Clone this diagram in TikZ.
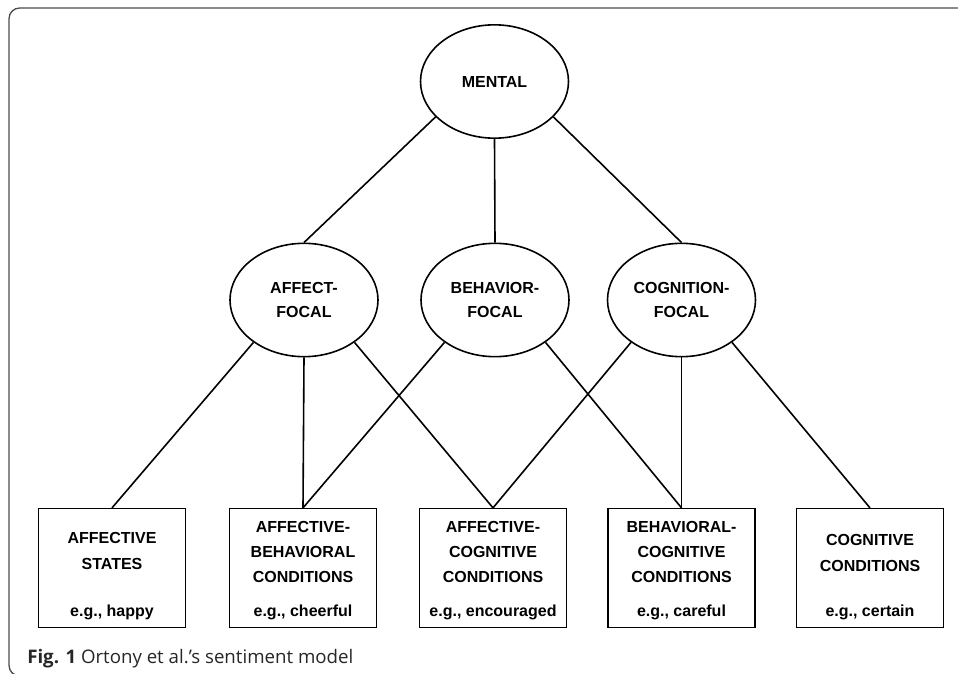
\documentclass[tikz,border=0pt]{standalone}
\usepackage{fontspec}
\setmainfont{Liberation Sans}
\newfontfamily\captionfont{Open Sans}
\usetikzlibrary{shapes.geometric}

\tikzset{
  focal/.style={draw, ellipse, line width=1.2pt, minimum width=111pt, minimum height=85pt,
    inner sep=0pt, align=center, font=\bfseries\fontsize{12}{18}\selectfont},
  condbox/.style={draw, rectangle, line width=1.2pt, minimum width=110pt, minimum height=89pt, inner sep=0pt},
  condtitle/.style={align=center, inner sep=0pt, font=\bfseries\fontsize{12}{19}\selectfont},
  egtext/.style={anchor=base, inner sep=0pt, font=\bfseries\fontsize{12}{14}\selectfont},
  link/.style={draw, line width=1.2pt}
}

\begin{document}
\begin{tikzpicture}[x=0.75pt, y=-0.75pt]
\useasboundingbox (0,0) rectangle (958,674);
\begin{scope}
\clip (0,0) rectangle (958,674);
\draw[gray!60!black, line width=1pt, rounded corners=8pt] (9,8) rectangle (975,676);
\end{scope}

% ellipses
\node[focal] (mental) at (494.5,81.5) {MENTAL};
\node[focal] (affect) at (304,300) {AFFECT-\\FOCAL};
\node[focal] (behavior) at (495,300) {BEHAVIOR-\\FOCAL};
\node[focal] (cognition) at (681.5,300) {COGNITION-\\FOCAL};

% boxes
\node[condbox] (states) at (112,568) {};
\node[condbox] (affbeh) at (303,568) {};
\node[condbox] (affcog) at (493,568) {};
\node[condbox] (behcog) at (681.5,568) {};
\node[condbox] (cogcond) at (870,568) {};

\node[condtitle] (states-t) at (112,551) {AFFECTIVE\\STATES};
\node[condtitle] (affbeh-t) at (303,552) {AFFECTIVE-\\BEHAVIORAL\\CONDITIONS};
\node[condtitle] (affcog-t) at (493,552) {AFFECTIVE-\\COGNITIVE\\CONDITIONS};
\node[condtitle] (behcog-t) at (681.5,552) {BEHAVIORAL-\\COGNITIVE\\CONDITIONS};
\node[condtitle] (cogcond-t) at (870,553) {COGNITIVE\\CONDITIONS};

\node[egtext] (states-eg) at (112,616) {e.g., happy};
\node[egtext] (affbeh-eg) at (303,616) {e.g., cheerful};
\node[egtext] (affcog-eg) at (493,616) {e.g., encouraged};
\node[egtext] (behcog-eg) at (681.5,616) {e.g., careful};
\node[egtext] (cogcond-eg) at (870,616) {e.g., certain};

% links
\path[link] (mental.211) -- (affect.north);
\path[link] (mental.south) -- (behavior.north);
\path[link] (mental.329) -- (cognition.north);

\path[link] (affect.220) -- (states.north);
\path[link] (affect.south) -- (affbeh.north);
\path[link] (affect.320) -- (affcog.north);
\path[link] (behavior.220) -- (affbeh.north);
\path[link] (behavior.320) -- (behcog.north);
\path[link] (cognition.220) -- (affcog.north);
\path[link] (cognition.south) -- (behcog.north);
\path[link] (cognition.320) -- (cogcond.north);

% caption
\node[anchor=base west, inner sep=0pt, font=\captionfont\fontsize{14}{16}\selectfont, text=black!85] (caption) at (27,663)
  {\textbf{Fig. 1} Ortony et al.’s sentiment model};
\end{tikzpicture}
\end{document}
